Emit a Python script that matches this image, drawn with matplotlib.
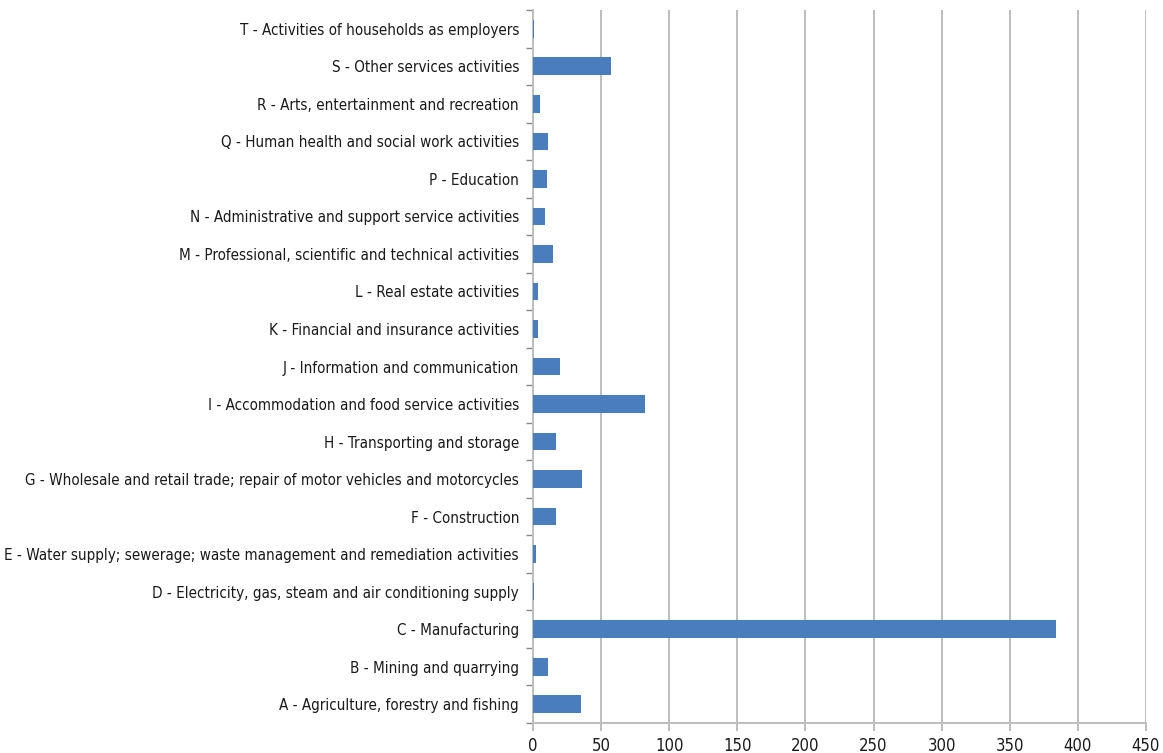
import matplotlib
matplotlib.use("Agg")
import matplotlib.pyplot as plt

categories = [
    "A - Agriculture, forestry and fishing",
    "B - Mining and quarrying",
    "C - Manufacturing",
    "D - Electricity, gas, steam and air conditioning supply",
    "E - Water supply; sewerage; waste management and remediation activities",
    "F - Construction",
    "G - Wholesale and retail trade; repair of motor vehicles and motorcycles",
    "H - Transporting and storage",
    "I - Accommodation and food service activities",
    "J - Information and communication",
    "K - Financial and insurance activities",
    "L - Real estate activities",
    "M - Professional, scientific and technical activities",
    "N - Administrative and support service activities",
    "P - Education",
    "Q - Human health and social work activities",
    "R - Arts, entertainment and recreation",
    "S - Other services activities",
    "T - Activities of households as employers",
]
values = [35, 11, 384, 0.5, 2, 17, 36, 17, 82, 20, 4, 4, 15, 9, 10.5, 11, 5, 57, 0.5]

x_ticks = [0, 50, 100, 150, 200, 250, 300, 350, 400, 450]

W, H = 1163, 753
fig = plt.figure(figsize=(W / 100, H / 100), dpi=100)
ax = fig.add_axes([533 / W, 1 - 723 / H, (1146 - 533) / W, (723 - 10) / H])

grid_c = "#bdbdbd"
pos = list(range(len(categories)))
ax.barh(pos, values, height=0.47, color="#4a7dbb", zorder=3)

ax.set_xlim(x_ticks[0], x_ticks[-1])
ax.set_ylim(-0.5, len(categories) - 0.5)
ax.set_xticks(x_ticks)
ax.set_xticklabels([str(t) for t in x_ticks], fontstretch="condensed")
ax.xaxis.grid(True, color=grid_c, linewidth=1.4, zorder=0)

# category ticks sit between bars; labels sit at the bar centres
ax.set_yticks([p - 0.5 for p in pos] + [len(pos) - 0.5])
ax.set_yticklabels([])
ax.set_yticks(pos, minor=True)
ax.set_yticklabels(categories, minor=True, fontsize=10.9, color="#1a1a1a",
                   fontstretch="condensed")
ax.tick_params(axis="y", which="minor", length=0, pad=10)
ax.tick_params(axis="y", which="major", length=5, color="#888888", width=1)
ax.tick_params(axis="x", length=6, color=grid_c, width=1.4, labelsize=12,
               labelcolor="#1a1a1a", pad=4)

for s in ("top", "right"):
    ax.spines[s].set_visible(False)
for s in ("left", "bottom"):
    ax.spines[s].set_color(grid_c)
    ax.spines[s].set_linewidth(1.4)

fig.savefig("out.png", dpi=100, facecolor="white")
